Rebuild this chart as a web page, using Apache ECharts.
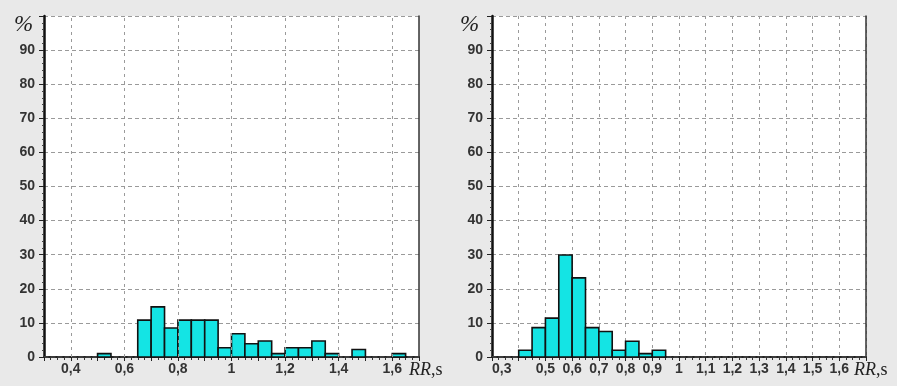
<!DOCTYPE html>
<html>
<head>
<meta charset="utf-8">
<script src="https://cdn.jsdelivr.net/npm/echarts@6/dist/echarts.min.js"></script>
<style>
html,body{margin:0;padding:0;background:#e9e9e9;}
#c{width:897px;height:386px;}
</style>
</head>
<body>
<div id="c"></div>
<script>
// ---- data ----
const binWidth = 0.05;
const leftBinStarts = [0.50,0.65,0.70,0.75,0.80,0.85,0.90,0.95,1.00,1.05,1.10,1.15,1.20,1.25,1.30,1.35,1.45,1.60];
const leftPercent   = [1.0,10.8,14.7,8.5,10.8,10.8,10.8,2.7,6.8,3.9,4.7,1.0,2.7,2.7,4.7,1.0,2.2,1.0];
const rightBinStarts = [0.40,0.45,0.50,0.55,0.60,0.65,0.70,0.75,0.80,0.85,0.90];
const rightPercent   = [2.0,8.6,11.4,29.9,23.2,8.6,7.5,2.0,4.6,1.0,2.0];
const leftXTickLabels  = [0.4,0.6,0.8,1.0,1.2,1.4,1.6];
const rightXTickLabels = [0.3,0.4,0.5,0.6,0.7,0.8,0.9,1.0,1.1,1.2,1.3,1.4,1.5,1.6];
const yTickLabels = [0,10,20,30,40,50,60,70,80,90];
const xRange = [0.3, 1.7];
const yRange = [0, 100];

// ---- helpers ----
const fmt = v => String(Math.round(v*10)/10).replace('.', ',');
const hasTick = (arr, v) => arr.some(t => Math.abs(t - v) < 1e-6);
const binData = (starts, vals) => starts.map((s,i) => [s, s + binWidth, vals[i]]);

function renderBar(params, api){
  const p0 = api.coord([api.value(0), 0]);
  const p1 = api.coord([api.value(1), api.value(2)]);
  return {
    type: 'rect',
    shape: {x: p0[0], y: p1[1], width: p1[0]-p0[0], height: p0[1]-p1[1]},
    style: {fill: '#14e4e4', stroke: '#111', lineWidth: 1.6}
  };
}

const labelStyle = {color:'#333', fontFamily:'Liberation Sans, Arial, sans-serif', fontWeight:'bold', fontSize:14};

function mainX(gridIndex, labels, showSplit){
  return {
    type:'value', gridIndex, min:xRange[0], max:xRange[1], interval:0.1,
    axisLine:{show:true, onZero:false, lineStyle:{color:'#222', width:2}},
    axisTick:{show:true, length:4, lineStyle:{color:'#222'}},
    minorTick:{show:true, splitNumber:4, length:3, lineStyle:{color:'#333'}},
    axisLabel:Object.assign({margin:5, showMinLabel:true, showMaxLabel:false, hideOverlap:false,
      formatter: v => hasTick(labels, v) ? fmt(v) : ''}, labelStyle,
      {alignMinLabel:'left', padding:[0,0,0,0]}),
    splitLine:{show:showSplit, lineStyle:{color:'#9a9a9a', type:[3,4], width:1}}
  };
}
function topX(gridIndex){
  return {
    type:'value', gridIndex, position:'top', min:xRange[0], max:xRange[1], interval:0.1,
    axisLine:{show:true, lineStyle:{color:'#444', width:1.5, type:[4,3]}},
    axisTick:{show:false}, axisLabel:{show:false}, splitLine:{show:false}
  };
}
function mainY(gridIndex){
  return {
    type:'value', gridIndex, min:yRange[0], max:yRange[1], interval:10,
    axisLine:{show:true, lineStyle:{color:'#111', width:2.5}},
    axisTick:{show:true, length:5, lineStyle:{color:'#222'}},
    minorTick:{show:true, splitNumber:5, length:2, lineStyle:{color:'#444'}},
    axisLabel:Object.assign({margin:9, formatter: v => hasTick(yTickLabels, v) ? String(v) : ''}, labelStyle),
    splitLine:{show:true, lineStyle:{color:'#9a9a9a', type:[4,3], width:1}}
  };
}
function rightY(gridIndex){
  return {
    type:'value', gridIndex, position:'right', min:yRange[0], max:yRange[1], interval:10,
    axisLine:{show:true, lineStyle:{color:'#333', width:1.5}},
    axisTick:{show:false}, axisLabel:{show:false}, splitLine:{show:false}
  };
}

const chart = echarts.init(document.getElementById('c'), null, {renderer:'canvas'});
const option = {
  animation:false,
  backgroundColor:'#e9e9e9',
  grid:[
    {left:44, right:478, top:16, bottom:29, show:true, backgroundColor:'#ffffff', borderWidth:0},
    {left:492, right:31, top:16, bottom:29, show:true, backgroundColor:'#ffffff', borderWidth:0}
  ],
  xAxis:[ mainX(0, leftXTickLabels, false), mainX(1, rightXTickLabels, true), topX(0), topX(1) ],
  yAxis:[ mainY(0), mainY(1), rightY(0), rightY(1) ],
  series:[
    {
      type:'line', xAxisIndex:0, yAxisIndex:0, data:[], z:1, silent:true,
      markLine:{
        silent:true, symbol:['none','none'], label:{show:false}, animation:false,
        lineStyle:{color:'#9a9a9a', type:[3,4], width:1},
        data: leftXTickLabels.map(v => ({xAxis:v}))
      }
    },
    {type:'custom', xAxisIndex:0, yAxisIndex:0, renderItem:renderBar, encode:{x:[0,1], y:2},
     data: binData(leftBinStarts, leftPercent), z:3},
    {type:'custom', xAxisIndex:1, yAxisIndex:1, renderItem:renderBar, encode:{x:[0,1], y:2},
     data: binData(rightBinStarts, rightPercent), z:3}
  ],
  graphic:[
    {type:'text', left:14, top:13, style:{text:'%', font:'italic 23px "Liberation Serif", "Times New Roman", serif', fill:'#222'}},
    {type:'text', left:460, top:13, style:{text:'%', font:'italic 23px "Liberation Serif", "Times New Roman", serif', fill:'#222'}},
    {type:'text', left:409, top:361, style:{
      text:'{i|RR},s', font:'18px "Liberation Serif", "Times New Roman", serif', fill:'#222',
      rich:{i:{fontStyle:'italic', fontSize:18, fontFamily:'Liberation Serif', fill:'#222'}}}},
    {type:'text', left:854, top:361, style:{
      text:'{i|RR},s', font:'18px "Liberation Serif", "Times New Roman", serif', fill:'#222',
      rich:{i:{fontStyle:'italic', fontSize:18, fontFamily:'Liberation Serif', fill:'#222'}}}}
  ]
};
chart.setOption(option);
</script>
</body>
</html>
